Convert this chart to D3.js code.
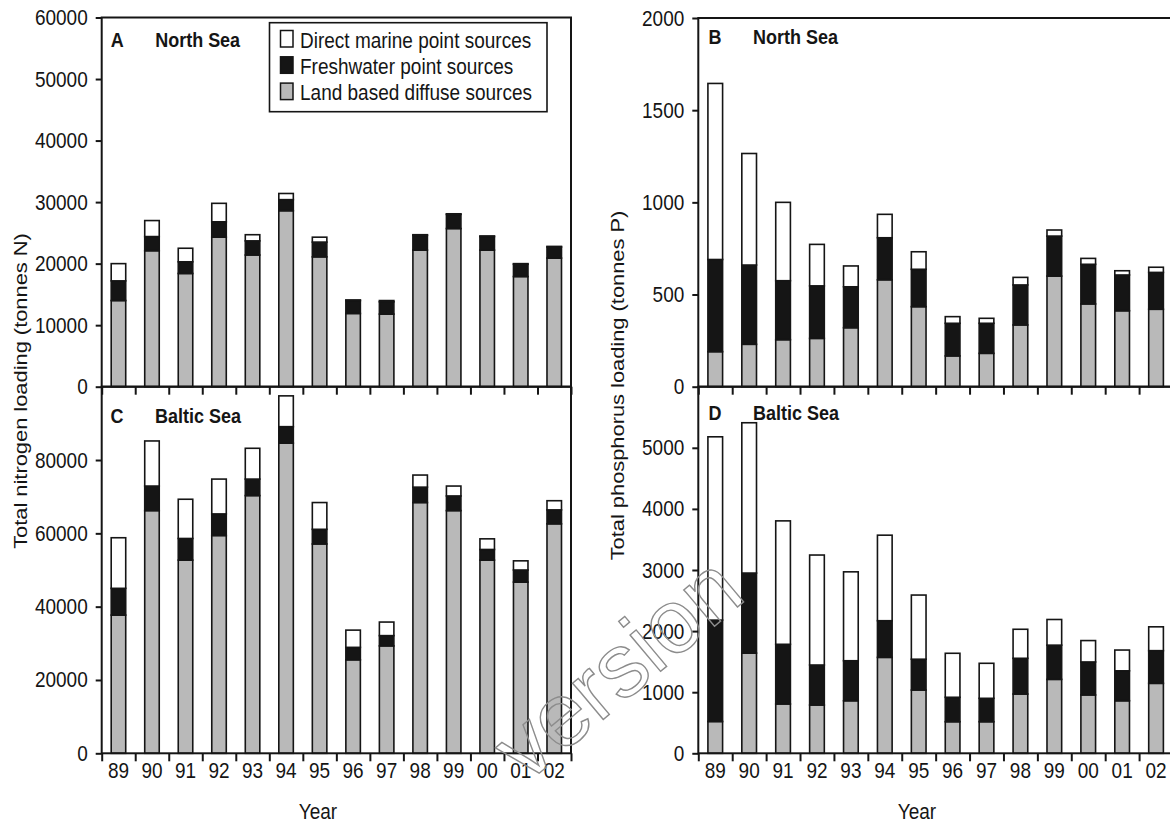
<!DOCTYPE html>
<html>
<head>
<meta charset="utf-8">
<title>Nitrogen and phosphorus loading</title>
<script src="https://d3js.org/d3.v7.min.js"></script>
<style>
  body { margin: 0; background: #fff; }
  svg { display: block; font-family: "Liberation Sans", Arial, sans-serif; }
</style>
</head>
<body>
<svg id="chart" width="1170" height="822"></svg>
<script>
// categories
var years = ["89", "90", "91", "92", "93", "94", "95", "96", "97", "98", "99", "00", "01", "02"];
var legendLabels = ["Direct marine point sources", "Freshwater point sources", "Land based diffuse sources"];

// A - nitrogen, North Sea (tonnes N)
var nsN_diffuse = [14000, 22100, 18400, 24300, 21400, 28600, 21100, 11900, 11800, 22200, 25700, 22200, 17900, 20900];
var nsN_fresh   = [3200, 2300, 1900, 2500, 2300, 1800, 2400, 2100, 2000, 2400, 2300, 2200, 2000, 1800];
var nsN_direct  = [2800, 2600, 2200, 3000, 1000, 1000, 800, 100, 200, 100, 100, 100, 100, 100];

// C - nitrogen, Baltic Sea (tonnes N)
var balN_diffuse = [37700, 66200, 52700, 59400, 70300, 84600, 57100, 25500, 29300, 68400, 66200, 52700, 46700, 62600];
var balN_fresh   = [7300, 6700, 5900, 5900, 4500, 4500, 4000, 3400, 2800, 4200, 4000, 2900, 3300, 3800];
var balN_direct  = [13800, 12300, 10700, 9500, 8400, 8400, 7300, 4700, 3700, 3300, 2700, 2900, 2500, 2500];

// B - phosphorus, North Sea (tonnes P)
var nsP_diffuse = [190, 230, 255, 262, 320, 580, 434, 167, 181, 335, 600, 449, 412, 420];
var nsP_fresh   = [500, 430, 320, 285, 222, 228, 203, 177, 163, 217, 217, 215, 194, 200];
var nsP_direct  = [955, 605, 425, 225, 113, 127, 95, 36, 27, 41, 33, 32, 23, 28];

// D - phosphorus, Baltic Sea (tonnes P)
var balP_diffuse = [520, 1640, 807, 790, 860, 1570, 1035, 517, 517, 970, 1210, 955, 860, 1145];
var balP_fresh   = [1660, 1310, 977, 655, 655, 600, 505, 400, 383, 585, 560, 540, 490, 535];
var balP_direct  = [3000, 2460, 2020, 1800, 1455, 1400, 1050, 720, 573, 475, 420, 350, 340, 390];

// y tick values
var ticksA = [0, 10000, 20000, 30000, 40000, 50000, 60000];
var ticksC = [0, 20000, 40000, 60000, 80000];
var ticksB = [0, 500, 1000, 1500, 2000];
var ticksD = [0, 1000, 2000, 3000, 4000, 5000];

var svg = d3.select("#chart");
var STRETCH = 1.15;   // the scanned figure is a bit taller than wide
var INK = "#151515", GRAY = "#b9b9b9";
var fills = [GRAY, INK, "#ffffff"];

function label(g, x, y, str, size, weight, anchor, rot) {
  return g.append("text")
    .attr("transform", "translate(" + x + "," + y + ") scale(1," + STRETCH + ")" + (rot ? " rotate(" + rot + ")" : ""))
    .attr("font-size", size)
    .attr("font-weight", weight || "normal")
    .attr("text-anchor", anchor || "start")
    .attr("fill", INK)
    .text(str);
}

function panel(cfg) {
  var g = svg.append("g");
  var x = d3.scaleBand().domain(years).range([cfg.x0, cfg.x1])
    .paddingInner(0.567).paddingOuter(0.2835);
  var xEdge = d3.scaleLinear().domain([0, years.length]).range([cfg.x0, cfg.x1]);
  var y = d3.scaleLinear().domain([0, cfg.max]).range([cfg.y1, cfg.y0]);

  var rows = years.map(function(yr, i) { return [cfg.diffuse[i], cfg.fresh[i], cfg.direct[i]]; });
  var series = d3.stack().keys([0, 1, 2]).value(function(d, k) { return d[k]; })(rows);

  series.forEach(function(s, k) {
    g.append("g").selectAll("rect")
      .data(s)
      .join("rect")
        .attr("x", function(d, i) { return x(years[i]); })
        .attr("width", x.bandwidth())
        .attr("y", function(d) { return y(d[1]); })
        .attr("height", function(d) { return y(d[0]) - y(d[1]); })
        .attr("fill", fills[k])
        .attr("stroke", INK)
        .attr("stroke-width", 1.6);
  });

  // frame
  g.append("rect")
    .attr("x", cfg.x0).attr("y", cfg.y0)
    .attr("width", cfg.x1 - cfg.x0).attr("height", cfg.y1 - cfg.y0)
    .attr("fill", "none").attr("stroke", INK).attr("stroke-width", 2);

  // y axis
  var ya = g.append("g")
    .attr("transform", "translate(" + cfg.x0 + ",0)")
    .call(d3.axisLeft(y).tickValues(cfg.ticks).tickSize(6).tickPadding(8).tickFormat(d3.format("d")));
  ya.select(".domain").remove();
  ya.selectAll("line").attr("stroke", INK).attr("stroke-width", 2);
  ya.selectAll("text")
    .attr("font-size", 19).attr("fill", INK)
    .attr("font-family", "Liberation Sans, Arial, sans-serif")
    .attr("transform", "scale(1," + STRETCH + ")");

  // ticks between the bars
  var xa = g.append("g")
    .attr("transform", "translate(0," + cfg.y1 + ")")
    .call(d3.axisBottom(xEdge).tickValues(d3.range(0, years.length + 1)).tickSize(8).tickFormat(""));
  xa.select(".domain").remove();
  xa.selectAll("line").attr("stroke", INK).attr("stroke-width", 2);

  if (cfg.yearLabels) {
    var xl = g.append("g")
      .attr("transform", "translate(0," + cfg.y1 + ")")
      .call(d3.axisBottom(x).tickSize(0));
    xl.select(".domain").remove();
    xl.selectAll("text")
      .attr("font-size", 19).attr("fill", INK)
      .attr("font-family", "Liberation Sans, Arial, sans-serif")
      .attr("y", 24.7 / STRETCH).attr("dy", 0)
      .attr("transform", "scale(1," + STRETCH + ")");
  }

  label(g, cfg.lx, cfg.ly, cfg.letter, 18, "bold");
  label(g, cfg.lx + 44.5, cfg.ly, cfg.sea, 18, "bold");
}

// Panel A
panel({ x0: 101.7, x1: 571, y0: 17.5, y1: 386.7, max: 60000, ticks: ticksA,
  diffuse: nsN_diffuse, fresh: nsN_fresh, direct: nsN_direct,
  letter: "A", sea: "North Sea", lx: 110.7, ly: 46.5 });
// Panel C
panel({ x0: 101.7, x1: 571, y0: 386.7, y1: 753.3, max: 100000, ticks: ticksC,
  diffuse: balN_diffuse, fresh: balN_fresh, direct: balN_direct, yearLabels: true,
  letter: "C", sea: "Baltic Sea", lx: 110.5, ly: 423 });
// Panel B
panel({ x0: 698.3, x1: 1173, y0: 18, y1: 386.7, max: 2000, ticks: ticksB,
  diffuse: nsP_diffuse, fresh: nsP_fresh, direct: nsP_direct,
  letter: "B", sea: "North Sea", lx: 708.5, ly: 43.5 });
// Panel D
panel({ x0: 698.3, x1: 1173, y0: 386.7, y1: 753.3, max: 6000, ticks: ticksD,
  diffuse: balP_diffuse, fresh: balP_fresh, direct: balP_direct, yearLabels: true,
  letter: "D", sea: "Baltic Sea", lx: 708.5, ly: 419.5 });

// legend (panel A)
var lg = svg.append("g");
lg.append("rect")
  .attr("x", 269.5).attr("y", 22.7).attr("width", 277.5).attr("height", 89)
  .attr("fill", "#fff").attr("stroke", INK).attr("stroke-width", 1.6);
legendLabels.forEach(function(t, i) {
  lg.append("rect")
    .attr("x", 280.5).attr("y", 30.5 + i * 26.3).attr("width", 12.5).attr("height", 16.5)
    .attr("fill", fills[2 - i]).attr("stroke", INK).attr("stroke-width", 1.5);
  label(lg, 300, 47.5 + i * 26.1, t, 19);
});

// axis titles
label(svg, 27, 391, "Total nitrogen loading (tonnes N)", 19, "normal", "middle", -90);
label(svg, 624, 385.5, "Total phosphorus loading (tonnes P)", 19, "normal", "middle", -90);
label(svg, 318, 819, "Year", 19, "normal", "middle");
label(svg, 917, 819, "Year", 19, "normal", "middle");

// scan watermark
svg.append("text")
  .attr("transform", "translate(748,598) rotate(-40)")
  .attr("text-anchor", "end")
  .attr("font-size", 90)
  .attr("fill", "none")
  .attr("stroke", "#8c8c8c")
  .attr("stroke-width", 1.4)
  .text("version");
</script>
</body>
</html>
